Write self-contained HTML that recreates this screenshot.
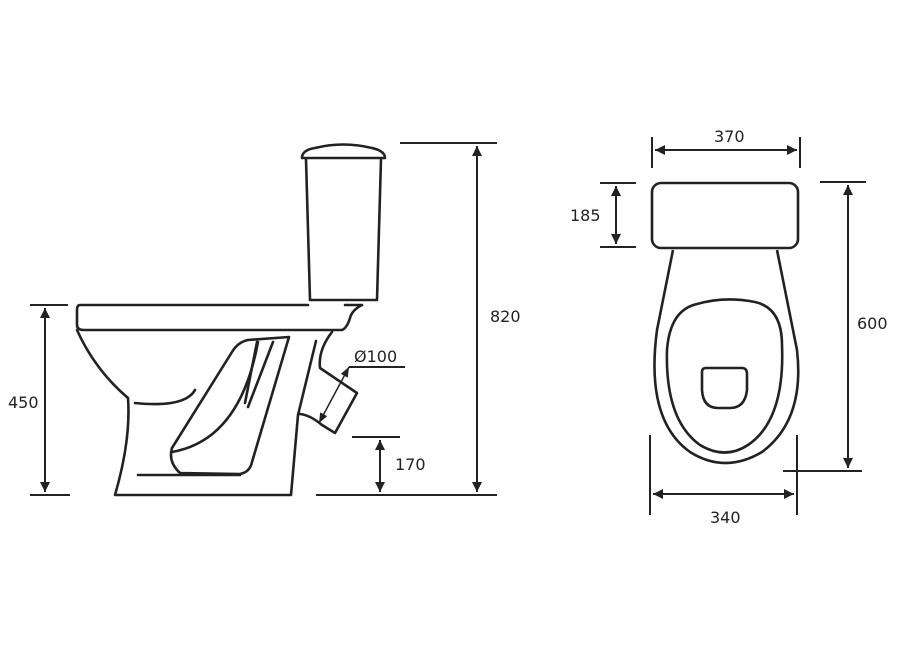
<!DOCTYPE html>
<html><head><meta charset="utf-8"><style>
html,body{margin:0;padding:0;background:#fff;}
svg{display:block}
text{font-family:"DejaVu Sans","Liberation Sans",sans-serif;font-size:16px;fill:#222}
</style></head><body>
<svg width="899" height="650" viewBox="0 0 899 650" xmlns="http://www.w3.org/2000/svg">
<defs>
<marker id="a" viewBox="0 0 10 10" refX="10" refY="5" markerWidth="10" markerHeight="10" markerUnits="userSpaceOnUse" orient="auto-start-reverse"><path d="M0,1 L10,5 L0,9 z" fill="#222"/></marker>
<marker id="b" viewBox="0 0 10 10" refX="10" refY="5" markerWidth="16" markerHeight="10" markerUnits="userSpaceOnUse" orient="auto-start-reverse"><path d="M0,0 L10,5 L0,10 z" fill="#222"/></marker>
</defs>
<g fill="none" stroke="#222" stroke-width="2.6" stroke-linejoin="round" stroke-linecap="round">
<!-- tank -->
<path d="M302,158 Q302,150 315,148 Q343,141 372,148 Q385,151 385,158 Z"/>
<path d="M306,159 L310,300 L377,300 L381,159"/>
<!-- rim -->
<path d="M308,305 L80,305 Q77,305 77,310 L77,325 Q77,330 84,330 L342,330 Q347,328 350,318 Q352,310 362,305 L345,305"/>
<path d="M77,330 Q95,370 128,398 Q131,440 115,495 L291,495 L298,415 L316,341"/>
<!-- outlet -->
<path d="M332,332 Q318,350 320,368 L357,393 L335,433 L322,425 Q310,415 300,414"/>
<!-- inner bowl -->
<path d="M135,403 Q185,408 195,390"/>
<path d="M138,475 L240,475"/>
<!-- trapway -->
<path d="M289,337 L248,340 Q238,342 232,352 L172,448 Q168,462 180,473 L240,474 Q250,472 252,462 Z"/>
<path d="M172,452 Q240,440 258,342"/>
<path d="M257,342 L245,403"/>
<path d="M273,342 L248,407"/>
</g>
<g fill="none" stroke="#222" stroke-width="2">
<!-- 450 -->
<path d="M30,305 H68 M30,495 H70"/>
<line x1="45" y1="308" x2="45" y2="492" marker-start="url(#b)" marker-end="url(#b)"/>
<!-- 820 -->
<path d="M400,143 H497 M316,495 H497"/>
<line x1="477" y1="146" x2="477" y2="492" marker-start="url(#b)" marker-end="url(#b)"/>
<!-- 170 -->
<path d="M352,437 H400"/>
<line x1="380" y1="440" x2="380" y2="492" marker-start="url(#b)" marker-end="url(#b)"/>
<!-- 100 -->
<path d="M349,367 H405"/>
<line x1="349" y1="367" x2="319" y2="423" stroke-width="1.5" marker-start="url(#a)" marker-end="url(#a)"/>
</g>
<!-- top view -->
<g fill="none" stroke="#222" stroke-width="2.6">
<rect x="652" y="183" width="146" height="65" rx="9"/>
<path d="M673,250 L657,330 Q645,420 690,452 Q725,474 762,452 Q805,420 797,350 L777,250"/>
<path d="M697,304 Q725,296 755,302 Q782,308 782,345 Q785,420 748,445 Q725,460 700,445 Q665,420 667,350 Q670,310 697,304 Z"/>
<path d="M706,368 L742,368 Q747,368 747,374 L747,390 Q745,408 730,408 L718,408 Q703,408 702,390 L702,372 Q702,368 706,368 Z"/>
</g>
<g fill="none" stroke="#222" stroke-width="2">
<path d="M652,137 V168 M800,137 V168"/>
<line x1="655" y1="150" x2="797" y2="150" marker-start="url(#b)" marker-end="url(#b)"/>
<path d="M600,183 H636 M600,247 H636"/>
<line x1="616" y1="186" x2="616" y2="244" marker-start="url(#b)" marker-end="url(#b)"/>
<path d="M820,182 H866 M783,471 H862"/>
<line x1="848" y1="185" x2="848" y2="468" marker-start="url(#b)" marker-end="url(#b)"/>
<path d="M650,435 V515 M797,435 V515"/>
<line x1="653" y1="494" x2="794" y2="494" marker-start="url(#b)" marker-end="url(#b)"/>
</g>
<text x="8" y="408">450</text>
<text x="490" y="322">820</text>
<text x="395" y="470">170</text>
<text x="354" y="362">Ø100</text>
<text x="714" y="142">370</text>
<text x="570" y="221">185</text>
<text x="857" y="329">600</text>
<text x="710" y="523">340</text>
</svg>
</body></html>
